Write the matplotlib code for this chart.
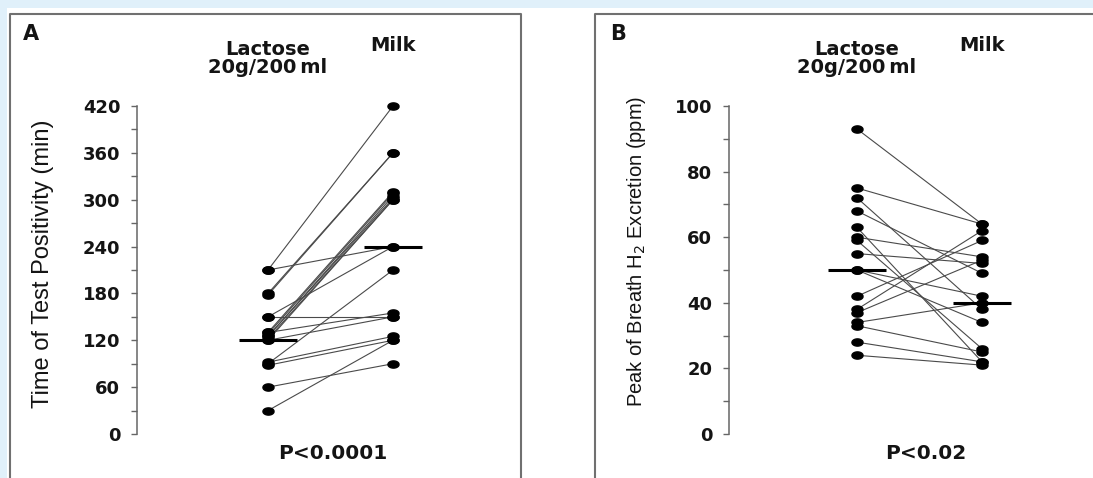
import numpy as np
import matplotlib
matplotlib.use("Agg")
import matplotlib.pyplot as plt
from matplotlib.lines import Line2D
from matplotlib.patches import Rectangle
from matplotlib.transforms import blended_transform_factory

# ---------------- data ----------------
categories = ["Lactose\n20g/200\u2009ml", "Milk"]

# Panel A: time of test positivity (min), paired per subject
lactose_A = [210, 210, 180, 178, 150, 150, 130, 128, 125, 125, 122, 120, 130, 120, 90, 92, 88, 60, 30]
milk_A    = [420, 240, 360, 360, 150, 240, 310, 308, 305, 302, 300, 300, 155, 150, 210, 125, 120, 90, 120]
centre_A  = [120, 240]
yticks_A  = [0, 60, 120, 180, 240, 300, 360, 420]
yminor_A  = [30, 90, 150, 210, 270, 330, 390]

# Panel B: peak of breath H2 excretion (ppm), paired per subject
lactose_B = [93, 75, 72, 68, 63, 60, 59, 55, 50, 42, 38, 37, 34, 33, 28, 24, 50]
milk_B    = [64, 64, 38, 49, 22, 54, 26, 52, 42, 59, 62, 53, 40, 25, 22, 21, 34]
centre_B  = [50, 40]
yticks_B  = [0, 20, 40, 60, 80, 100]
yminor_B  = [10, 30, 50, 70, 90]

panel_letters = ["A", "B"]
ylabels = ["Time of Test Positivity (min)", "Peak of Breath H$_2$ Excretion (ppm)"]
pvalues = ["P<0.0001", "P<0.02"]

# ---------------- layout ----------------
W, H = 1093, 478
fig = plt.figure(figsize=(W / 100, H / 100), dpi=100)
fig.patch.set_facecolor("white")

def fx(x):
    return x / W

def fy(y):
    return 1 - y / H

# light blue page background strips
blue = "#e0f0fa"
fig.add_artist(Rectangle((0, fy(8)), 1, 8 / H, transform=fig.transFigure,
                         facecolor=blue, edgecolor="none", zorder=0))
fig.add_artist(Rectangle((0, 0), fx(7), 1, transform=fig.transFigure,
                         facecolor=blue, edgecolor="none", zorder=0))

# panel frames
frame_kw = dict(color="#707070", lw=1.5, transform=fig.transFigure, zorder=1)
fig.add_artist(Line2D([fx(10), fx(10), fx(521), fx(521)], [0, fy(13.5), fy(13.5), 0], **frame_kw))
fig.add_artist(Line2D([fx(595), fx(595), 1.0], [0, fy(13.5), fy(13.5)], **frame_kw))

unit = 125.0          # pixels between the two categories
top_px, bot_px = 106, 434
axw = 342

panels = [
    dict(spine=137, first=268, lac=lactose_A, milk=milk_A, centre=centre_A,
         ticks=yticks_A, minor=yminor_A, ylab_x=43, ylab_y=264, ylab_size=17,
         letter_x=23, p_off=0.52),
    dict(spine=729, first=857, lac=lactose_B, milk=milk_B, centre=centre_B,
         ticks=yticks_B, minor=yminor_B, ylab_x=637, ylab_y=251, ylab_size=14.5,
         letter_x=610, p_off=0.55),
]

t = np.linspace(0, 2 * np.pi, 41)
ellipse = np.column_stack([np.cos(t), 0.65 * np.sin(t)])

bold = dict(family="DejaVu Sans", weight="bold", color="#141414")

for i, p in enumerate(panels):
    ax = fig.add_axes([fx(p["spine"]), fy(bot_px), axw / W, (bot_px - top_px) / H])
    ax.patch.set_alpha(0)
    left = -(p["first"] - p["spine"]) / unit
    ax.set_xlim(left, left + axw / unit)
    ax.set_ylim(p["ticks"][0], p["ticks"][-1])

    lac = np.asarray(p["lac"], float)
    milk = np.asarray(p["milk"], float)
    n = len(lac)
    xs = np.vstack([np.zeros(n), np.ones(n)])
    ys = np.vstack([lac, milk])
    ax.plot(xs, ys, color="#4a4a4a", lw=0.8, zorder=2, clip_on=False)
    ax.plot(np.zeros(n), lac, ls="none", marker=ellipse, ms=8, color="black",
            zorder=3, clip_on=False)
    ax.plot(np.ones(n), milk, ls="none", marker=ellipse, ms=8, color="black",
            zorder=3, clip_on=False)
    for j, c in enumerate(p["centre"]):
        ax.plot([j - 0.23, j + 0.23], [c, c], color="black", lw=2.2, zorder=4,
                solid_capstyle="butt", clip_on=False)

    # axis styling
    for s in ["top", "right", "bottom"]:
        ax.spines[s].set_visible(False)
    ax.spines["left"].set_color("#666666")
    ax.spines["left"].set_linewidth(1.1)
    ax.spines["left"].set_bounds(p["ticks"][0], p["ticks"][-1])
    ax.set_xticks([])
    ax.set_yticks(p["ticks"])
    ax.set_yticks(p["minor"], minor=True)
    ax.tick_params(axis="y", which="both", direction="out", length=4.5, width=1.0,
                   color="#666666", pad=7.5)
    for lab in ax.get_yticklabels():
        lab.set_fontfamily("DejaVu Sans")
        lab.set_fontweight("bold")
        lab.set_fontsize(13)
        lab.set_color("#141414")

    # headers above categories (multi-line text: baseline of last line)
    tr = blended_transform_factory(ax.transData, fig.transFigure)
    ax.text(0, fy(73), categories[0], transform=tr, ha="center", va="baseline",
            fontsize=14, linespacing=0.92, **bold)
    ax.text(1, fy(51), categories[1], transform=tr, ha="center", va="baseline",
            fontsize=14, **bold)
    ax.text(p["p_off"], fy(459), pvalues[i], transform=tr, ha="center", va="baseline",
            fontsize=14.5, **bold)

    # panel letter and y label
    fig.text(fx(p["letter_x"]), fy(40), panel_letters[i], ha="left", va="baseline",
             fontsize=15, **bold)
    fig.text(fx(p["ylab_x"]), fy(p["ylab_y"]), ylabels[i], rotation=90,
             ha="center", va="center", fontsize=p["ylab_size"],
             family="Liberation Sans", color="#141414")

fig.savefig("out.png", dpi=100, facecolor="white")
